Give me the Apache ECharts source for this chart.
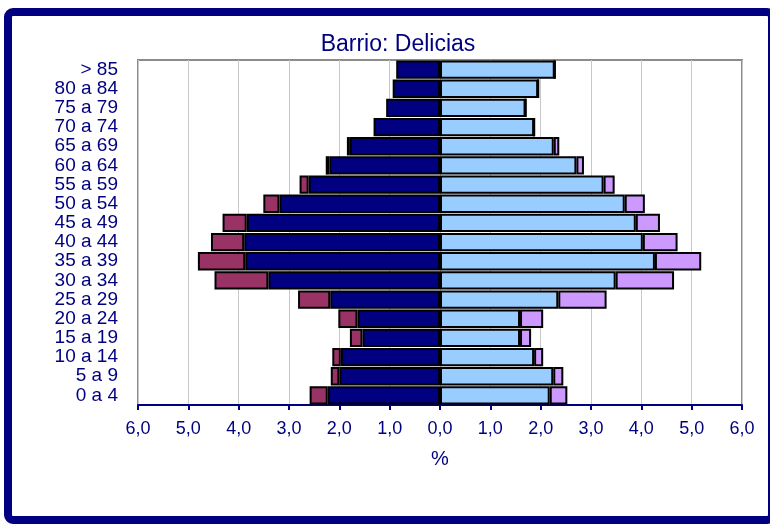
<!DOCTYPE html>
<html>
<head>
<meta charset="utf-8">
<script src="https://cdn.jsdelivr.net/npm/echarts@6/dist/echarts.min.js"></script>
<style>
  html, body { margin: 0; padding: 0; background: #fff; }
  #chart { width: 770px; height: 524px; }
</style>
</head>
<body>
<div id="chart"></div>
<script>
"use strict";

// age groups, bottom to top
let ageGroups = ["0 a 4", "5 a 9", "10 a 14", "15 a 19", "20 a 24", "25 a 29", "30 a 34",
    "35 a 39", "40 a 44", "45 a 49", "50 a 54", "55 a 59", "60 a 64", "65 a 69",
    "70 a 74", "75 a 79", "80 a 84", "> 85"];

// % of population, men (left side)
let menNational = [2.23, 2.00, 1.97, 1.54, 1.64, 2.18, 3.41, 3.87, 3.89, 3.84, 3.19, 2.61, 2.20, 1.79, 1.32, 1.07, 0.94, 0.87];
let menForeign  = [0.36, 0.17, 0.17, 0.25, 0.38, 0.64, 1.07, 0.94, 0.66, 0.48, 0.32, 0.18, 0.07, 0.06, 0.00, 0.00, 0.00, 0.00];

// % of population, women (right side)
let womenNational = [2.18, 2.25, 1.87, 1.59, 1.59, 2.35, 3.49, 4.27, 4.03, 3.89, 3.67, 3.25, 2.71, 2.26, 1.87, 1.70, 1.95, 2.28];
let womenForeign  = [0.35, 0.20, 0.18, 0.22, 0.46, 0.96, 1.16, 0.92, 0.69, 0.48, 0.40, 0.22, 0.15, 0.11, 0.00, 0.00, 0.00, 0.00];

let xTicks = [-6, -5, -4, -3, -2, -1, 0, 1, 2, 3, 4, 5, 6];

let navy = "#000080";
let fontName = "Liberation Sans, Arial, sans-serif";

// one stack for everything: negatives (men) and positives (women) pile up separately
function barSeries(name, values, color, negate) {
    return {
        name: name,
        type: "bar",
        stack: "pyramid",
        stackStrategy: "samesign",
        barCategoryGap: "4%",
        data: values.map(v => negate ? -v : v),
        itemStyle: { color: color, borderColor: "#000", borderWidth: 2 },
        emphasis: { disabled: true }
    };
}

let chart = echarts.init(document.getElementById("chart"));

chart.setOption({
    animation: false,
    title: {
        text: "Barrio: Delicias",
        left: 393,
        textAlign: "center",
        top: 28,
        textStyle: { fontFamily: fontName, fontSize: 23, fontWeight: "normal", color: navy }
    },
    grid: {
        left: 138, right: 28, top: 60, bottom: 119,
        show: true, borderColor: "#8c8c8c", borderWidth: 2, backgroundColor: "#fff"
    },
    xAxis: {
        type: "value",
        min: xTicks[0],
        max: xTicks[xTicks.length - 1],
        interval: 1,
        name: "%",
        nameLocation: "middle",
        nameGap: 44,
        nameTextStyle: { fontFamily: fontName, fontSize: 20, color: navy },
        axisLine: { show: true, onZero: false, lineStyle: { color: navy, width: 2 } },
        axisTick: { show: true, length: 5, lineStyle: { color: navy, width: 2 } },
        axisLabel: {
            margin: 15,
            fontFamily: fontName, fontSize: 18, color: navy,
            formatter: v => Math.abs(v).toFixed(1).replace(".", ",")
        },
        splitLine: { show: true, lineStyle: { color: "#c8c8c8", width: 1 } }
    },
    yAxis: {
        type: "category",
        data: ageGroups,
        axisLine: { show: false },
        axisTick: { show: false },
        axisLabel: {
            interval: 0, hideOverlap: false, margin: 20,
            fontFamily: fontName, fontSize: 19, color: navy, lineHeight: 19
        }
    },
    series: [
        barSeries("Hombres", menNational, navy, true),
        barSeries("Mujeres", womenNational, "#99ccff", false),
        barSeries("Hombres extranjeros", menForeign, "#993366", true),
        barSeries("Mujeres extranjeras", womenForeign, "#cc99ff", false)
    ],
    graphic: [{
        type: "rect",
        silent: true,
        shape: { x: 8, y: 12, width: 764, height: 508, r: 5 },
        style: { fill: null, stroke: navy, lineWidth: 8 }
    }]
});
</script>
</body>
</html>
